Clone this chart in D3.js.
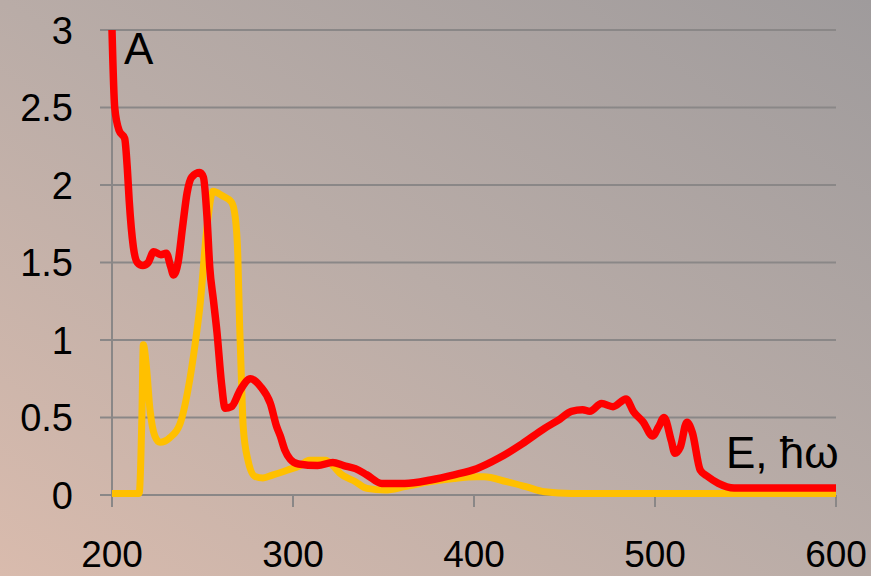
<!DOCTYPE html>
<html>
<head>
<meta charset="utf-8">
<script src="https://cdn.jsdelivr.net/npm/d3@7"></script>
<style>
  html, body { margin: 0; padding: 0; background: #b8aca8; }
  svg { display: block; font-family: "Liberation Sans", Arial, sans-serif; }
</style>
</head>
<body>
<svg id="chart" width="871" height="576"></svg>
<script>
// Absorption spectra A(E)
const energyRed = [200,201.5,204,207,208.5,209.5,211.8,214,217,220,223,227,230,232.5,234,236.5,239,241.5,244,248.5,250.5,252.5,254,256,258,260.5,262.5,266,271,276.5,282,287.5,291,293,295.5,298.5,303,313.6,322,328,334.5,340.8,349,361.7,376,389,401.5,414,426.6,439,447.5,453.8,460,464,470.5,476.8,484,488,493.5,498.7,502,505,509,511,514,517.6,520.7,525,529,535,543.7,560,600];
const absRed = [3.0,2.5,2.35,2.30,2.1,1.9,1.6,1.5,1.48,1.50,1.57,1.55,1.56,1.47,1.42,1.50,1.73,1.95,2.05,2.08,2.05,1.79,1.47,1.26,1.05,0.72,0.56,0.57,0.68,0.75,0.70,0.59,0.44,0.38,0.29,0.23,0.20,0.19,0.21,0.19,0.17,0.13,0.075,0.075,0.097,0.13,0.17,0.24,0.33,0.43,0.49,0.54,0.55,0.54,0.59,0.57,0.62,0.54,0.47,0.38,0.44,0.50,0.35,0.27,0.31,0.47,0.40,0.16,0.12,0.075,0.045,0.045,0.045];

const energyYellow = [200,215,216.5,217.3,219,221,223.7,226.5,232,237.6,242,246,248.6,252.5,255.8,261,266,268,269.5,270.5,271.5,272.5,275,279,283.4,289,296.7,304,309,318,322,326,334.5,340.8,351,361.7,376,389,401.5,405.6,418,428.6,439,453.8,600];
const absYellow = [0.01,0.01,0.5,0.97,0.83,0.55,0.38,0.34,0.37,0.46,0.68,0.98,1.22,1.73,1.96,1.93,1.89,1.80,1.55,1.1,0.75,0.44,0.23,0.12,0.11,0.13,0.16,0.19,0.225,0.225,0.19,0.14,0.086,0.043,0.032,0.054,0.086,0.107,0.118,0.118,0.086,0.054,0.021,0.01,0.01];

const xTicks = [200, 300, 400, 500, 600];
const yTicks = [0, 0.5, 1, 1.5, 2, 2.5, 3];
const yTickLabels = ["0", "0.5", "1", "1.5", "2", "2.5", "3"];

const svg = d3.select("#chart");
const W = 871, H = 576;

// background gradient
const defs = svg.append("defs");
const grad = defs.append("linearGradient")
  .attr("id", "bg").attr("x1", "0").attr("y1", "1").attr("x2", "1").attr("y2", "0");
grad.append("stop").attr("offset", "0").attr("stop-color", "#d9bbad");
grad.append("stop").attr("offset", "0.5").attr("stop-color", "#b9aca7");
grad.append("stop").attr("offset", "1").attr("stop-color", "#9f9b9c");
svg.append("rect").attr("width", W).attr("height", H).attr("fill", "url(#bg)");

const x = d3.scaleLinear().domain([200, 600]).range([112, 836]);
const y = d3.scaleLinear().domain([0, 3]).range([495, 30]);

const gridColor = "#8a8787";

// horizontal gridlines (with left tick stubs)
svg.append("g").selectAll("line").data(yTicks).join("line")
  .attr("x1", 100).attr("x2", x(600))
  .attr("y1", d => y(d)).attr("y2", d => y(d))
  .attr("stroke", gridColor).attr("stroke-width", 2);

// vertical axis line
svg.append("line")
  .attr("x1", x(200)).attr("x2", x(200))
  .attr("y1", y(3)).attr("y2", y(0) + 12)
  .attr("stroke", gridColor).attr("stroke-width", 2);

// x tick marks
svg.append("g").selectAll("line").data(xTicks.slice(1)).join("line")
  .attr("x1", d => x(d)).attr("x2", d => x(d))
  .attr("y1", y(0)).attr("y2", y(0) + 12)
  .attr("stroke", gridColor).attr("stroke-width", 2);

// y tick labels
svg.append("g").selectAll("text").data(yTicks).join("text")
  .attr("x", 73).attr("y", d => y(d) + 13.5)
  .attr("text-anchor", "end")
  .attr("font-size", 38).attr("fill", "#000")
  .text((d, i) => yTickLabels[i]);

// x tick labels
svg.append("g").selectAll("text").data(xTicks).join("text")
  .attr("x", d => x(d)).attr("y", 567)
  .attr("text-anchor", "middle")
  .attr("font-size", 37).attr("fill", "#000")
  .text(d => d);

const line = d3.line()
  .x(d => x(d[0])).y(d => y(d[1]))
  .curve(d3.curveMonotoneX);

const yellowPts = d3.zip(energyYellow, absYellow);
const redPts = d3.zip(energyRed, absRed);

svg.append("path").datum(yellowPts)
  .attr("d", line).attr("fill", "none")
  .attr("stroke", "#ffc000").attr("stroke-width", 7)
  .attr("stroke-linejoin", "round");

svg.append("path").datum(redPts)
  .attr("d", line).attr("fill", "none")
  .attr("stroke", "#ff0000").attr("stroke-width", 7.5)
  .attr("stroke-linejoin", "round");

// axis titles
svg.append("text").attr("x", 124).attr("y", 64)
  .attr("font-size", 44).attr("fill", "#000").text("A");
svg.append("text").attr("x", 726).attr("y", 468)
  .attr("font-size", 44).attr("fill", "#000").text("E, ħω");
</script>
</body>
</html>
